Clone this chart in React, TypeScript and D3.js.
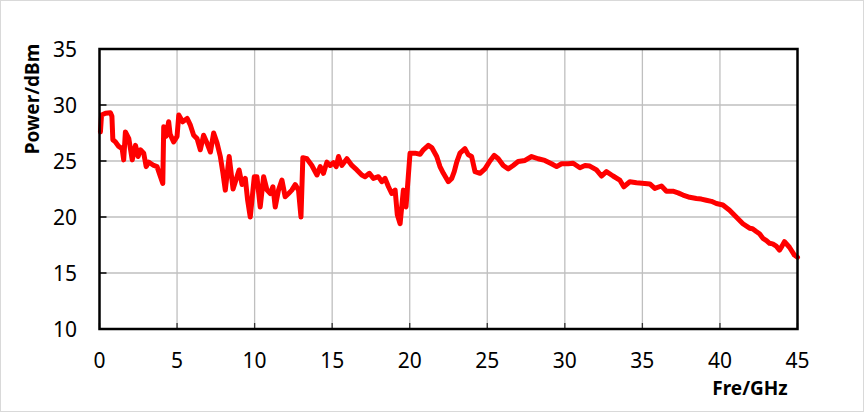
import React from "react";
import * as d3 from "d3";

const freq: number[] = [
  0.06, 0.13, 0.39, 0.71, 0.8, 0.86, 1.03, 1.24, 1.46, 1.56, 1.67, 1.89, 2.11, 2.32, 2.49, 2.64, 2.85, 3.01, 3.17, 3.5,
  3.71, 3.93, 4.08, 4.14, 4.29, 4.46, 4.55, 4.78, 5.0, 5.11, 5.36, 5.65, 5.86, 6.07, 6.29, 6.5, 6.71, 6.93, 7.15, 7.36,
  7.58, 7.79, 7.95, 8.11, 8.36, 8.61, 9.0, 9.19, 9.4, 9.55, 9.72, 9.98, 10.15, 10.36, 10.58, 10.8, 11.01, 11.18, 11.33, 11.54,
  11.76, 11.97, 12.19, 12.4, 12.62, 12.83, 12.99, 13.11, 13.37, 13.69, 14.02, 14.23, 14.44, 14.66, 14.87, 15.08, 15.26, 15.41, 15.62, 15.95,
  16.27, 16.59, 16.91, 17.12, 17.4, 17.66, 17.98, 18.2, 18.41, 18.63, 18.84, 19.06, 19.2, 19.38, 19.59, 19.76, 20.02, 20.34, 20.67, 20.88,
  21.2, 21.42, 21.74, 21.95, 22.17, 22.49, 22.71, 22.87, 23.03, 23.24, 23.56, 23.78, 23.99, 24.21, 24.53, 24.85, 25.17, 25.45, 25.71, 26.03,
  26.35, 26.67, 26.99, 27.43, 27.86, 28.28, 28.71, 29.14, 29.47, 29.79, 30.21, 30.54, 30.97, 31.3, 31.61, 32.04, 32.36, 32.68, 33.11, 33.54,
  33.8, 34.19, 34.62, 35.15, 35.48, 35.8, 36.23, 36.55, 36.97, 37.3, 37.62, 38.05, 38.48, 38.8, 39.12, 39.45, 39.77, 40.19, 40.62, 41.05,
  41.48, 41.91, 42.1, 42.34, 42.55, 42.77, 43.0, 43.2, 43.4, 43.63, 43.84, 44.0, 44.16, 44.48, 44.8, 45.0,
];

const power: number[] = [
  27.6, 29.1, 29.26, 29.3, 29.0, 26.9, 26.7, 26.3, 26.1, 25.1, 27.6, 27.0, 25.1, 26.4, 25.4, 26.0, 25.7, 24.5, 24.9, 24.6,
  24.5, 23.6, 23.0, 28.06, 27.2, 28.5, 27.4, 26.7, 27.2, 29.1, 28.5, 28.8, 28.2, 27.3, 27.0, 26.0, 27.3, 26.6, 25.8, 27.5,
  26.6, 25.4, 24.0, 22.4, 25.4, 22.5, 24.2, 22.9, 23.45, 21.5, 20.0, 23.6, 23.6, 20.9, 23.6, 22.4, 22.1, 22.7, 20.9, 22.4,
  23.3, 21.8, 22.1, 22.4, 22.9, 22.4, 20.0, 25.3, 25.2, 24.6, 23.75, 24.5, 23.9, 24.9, 24.6, 24.85, 24.5, 25.4, 24.6, 25.2,
  24.6, 24.2, 23.75, 23.6, 23.9, 23.45, 23.6, 23.15, 23.45, 22.7, 22.1, 22.4, 20.2, 19.4, 22.4, 20.9, 25.7, 25.7, 25.6, 26.0,
  26.4, 26.2, 25.4, 24.5, 23.9, 23.15, 23.45, 24.05, 24.9, 25.7, 26.1, 25.55, 25.4, 24.05, 23.9, 24.3, 25.0, 25.5, 25.2, 24.6,
  24.3, 24.6, 24.95, 25.05, 25.4, 25.2, 25.05, 24.75, 24.5, 24.75, 24.75, 24.8, 24.4, 24.6, 24.55, 24.2, 23.66, 24.05, 23.66, 23.3,
  22.7, 23.15, 23.06, 23.0, 22.95, 22.55, 22.77, 22.3, 22.3, 22.15, 21.96, 21.76, 21.65, 21.6, 21.5, 21.4, 21.2, 21.07, 20.6, 20.0,
  19.4, 19.0, 18.95, 18.7, 18.5, 18.1, 17.9, 17.65, 17.6, 17.4, 17.05, 17.4, 17.8, 17.3, 16.6, 16.4,
];

const xTicks: number[] = [0, 5, 10, 15, 20, 25, 30, 35, 40, 45];
const yTicks: number[] = [10, 15, 20, 25, 30, 35];

const W = 865;
const H = 413;
const L = 99.5;
const R = 797.5;
const T = 49;
const B = 329;

export default function App() {
  const x = d3.scaleLinear().domain([0, 45]).range([L, R]);
  const y = d3.scaleLinear().domain([10, 35]).range([B, T]);
  const pts: [number, number][] = freq.map((f, i) => [f, power[i]]);
  const line = d3
    .line<[number, number]>()
    .x((d) => x(d[0]))
    .y((d) => y(d[1]));
  const font = "'Noto Sans', 'Open Sans', sans-serif";
  return (
    <svg
      width={W}
      height={H}
      style={{ position: "absolute", left: 0, top: 0, background: "#fff" }}
    >
      <rect x={0.5} y={0.5} width={863} height={411} fill="#fff" stroke="#d9d9d9" strokeWidth={1} />
      {yTicks.slice(1, -1).map((t) => (
        <line key={"gy" + t} x1={L} x2={R} y1={y(t)} y2={y(t)} stroke="#bfbfbf" strokeWidth={1.3} />
      ))}
      {xTicks.slice(1, -1).map((t) => (
        <line key={"gx" + t} x1={x(t)} x2={x(t)} y1={T} y2={B} stroke="#bfbfbf" strokeWidth={1.3} />
      ))}
      {yTicks.map((t) => (
        <line key={"ty" + t} x1={L} x2={L + 7} y1={y(t)} y2={y(t)} stroke="#000" strokeWidth={1.5} />
      ))}
      {xTicks.map((t) => (
        <line key={"tx" + t} x1={x(t)} x2={x(t)} y1={B} y2={B - 6} stroke="#333" strokeWidth={1.3} />
      ))}
      <path
        d={line(pts) || ""}
        fill="none"
        stroke="#ff0000"
        strokeWidth={5}
        strokeLinejoin="round"
        strokeLinecap="round"
      />
      <rect x={L} y={T} width={R - L} height={B - T} fill="none" stroke="#000" strokeWidth={2.5} />
      {yTicks.map((t) => (
        <text
          key={"ly" + t}
          x={77}
          y={y(t)}
          dy="0.36em"
          textAnchor="end"
          fontFamily={font}
          fontSize={21}
          fill="#000"
        >
          {t}
        </text>
      ))}
      {xTicks.map((t) => (
        <text
          key={"lx" + t}
          x={x(t)}
          y={368}
          textAnchor="middle"
          fontFamily={font}
          fontSize={21}
          fill="#000"
        >
          {t}
        </text>
      ))}
      <text
        transform="translate(39,99) rotate(-90)"
        textAnchor="middle"
        fontFamily={font}
        fontSize={19}
        fontWeight="bold"
        fill="#000"
      >
        Power/dBm
      </text>
      <text
        x={750}
        y={395}
        textAnchor="middle"
        fontFamily={font}
        fontSize={19}
        fontWeight="bold"
        fill="#000"
      >
        Fre/GHz
      </text>
    </svg>
  );
}
